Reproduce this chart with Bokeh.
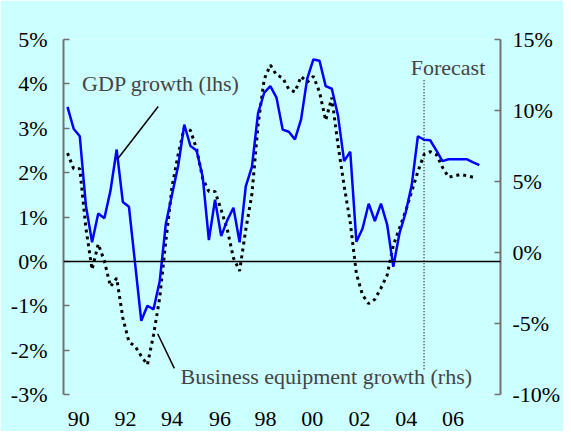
from bokeh.plotting import figure
from bokeh.models import Range1d, LinearAxis, FixedTicker, Span, Label, PrintfTickFormatter
from bokeh.embed import file_html
from bokeh.resources import INLINE

# Quarterly series (index 0 = first quarter shown)
gdp = [3.48, 2.99, 2.82, 1.25, 0.43, 1.08, 0.97, 1.60, 2.52, 1.34, 1.23, -0.05,
       -1.34, -1.00, -1.08, -0.45, 0.85, 1.50, 2.15, 3.08, 2.60, 2.50, 1.90, 0.48,
       1.39, 0.57, 0.93, 1.21, 0.43, 1.69, 2.13, 3.34, 3.80, 3.95, 3.69, 2.97,
       2.92, 2.75, 3.20, 4.12, 4.55, 4.52, 3.95, 3.89, 3.29, 2.26, 2.47, 0.44,
       0.74, 1.30, 0.91, 1.30, 0.83, -0.12, 0.63, 1.09, 1.72, 2.82, 2.74, 2.73,
       2.50, 2.26, 2.30, 2.30, 2.30, 2.30, 2.23, 2.17]
equip = [7.0, 5.9, 5.9, 1.7, -1.2, 0.6, -0.6, -2.4, -1.8, -4.6, -6.3, -6.6,
         -7.3, -7.9, -5.8, -3.2, 0.8, 4.6, 6.9, 8.8, 8.6, 7.3, 5.2, 4.3,
         4.3, 3.0, 1.6, -0.4, -1.3, 1.6, 4.1, 9.0, 12.2, 13.2, 12.5, 12.3,
         11.5, 11.3, 12.4, 12.0, 12.4, 11.3, 9.3, 10.9, 7.6, 4.7, 2.1, -1.5,
         -3.0, -3.6, -3.3, -2.5, -1.6, 0.5, 1.7, 2.9, 4.3, 5.7, 6.9, 7.1,
         6.9, 6.0, 5.3, 5.4, 5.5, 5.4, 5.3]
left_ticks = [-3, -2, -1, 0, 1, 2, 3, 4, 5]
right_ticks = [-10, -5, 0, 5, 10, 15]
year_labels = ["90", "92", "94", "96", "98", "00", "02", "04", "06"]
year_label_pos = [1.83, 9.42, 17.0, 24.8, 32.2, 39.8, 47.5, 55.1, 62.7]
forecast_start = 58

FONT = "Liberation Serif"
BG = "#CCFFFF"
FS = "22px"
AXC = "#707070"

p = figure(width=563, height=431, output_backend="svg", toolbar_location=None,
           x_range=Range1d(-0.65, 70.44), y_range=Range1d(-3, 5),
           min_border_left=63, min_border_right=60, min_border_top=39,
           min_border_bottom=37)
p.extra_y_ranges = {"rhs": Range1d(-10, 15)}
p.grid.visible = False
p.outline_line_color = None
p.background_fill_color = BG
p.border_fill_color = BG

# x axis: labels only
xa = p.xaxis[0]
xa.ticker = FixedTicker(ticks=year_label_pos)
xa.major_label_overrides = {pos: lab for pos, lab in zip(year_label_pos, year_labels)}
xa.axis_line_color = None
xa.major_tick_line_color = None
xa.minor_tick_line_color = None
xa.major_label_standoff = 11
xa.major_label_text_font = FONT
xa.major_label_text_font_size = FS
xa.major_label_text_color = "black"

def style_y(ax, ticks):
    ax.ticker = FixedTicker(ticks=ticks)
    ax.formatter = PrintfTickFormatter(format="%d%%")
    ax.axis_line_color = AXC
    ax.axis_line_width = 2
    ax.major_tick_line_color = AXC
    ax.major_tick_line_width = 1.5
    ax.major_tick_in = 6
    ax.major_tick_out = 0
    ax.minor_tick_line_color = None
    ax.major_label_text_font = FONT
    ax.major_label_text_font_size = FS
    ax.major_label_text_color = "black"

ya = p.yaxis[0]
style_y(ya, left_ticks)
ya.major_label_standoff = 16

ra = LinearAxis(y_range_name="rhs")
style_y(ra, right_ticks)
ra.major_label_standoff = 12
p.add_layout(ra, "right")

p.add_layout(Span(location=0, dimension="width", line_color="black", line_width=1.5))

x_eq = list(range(len(equip)))
x_gdp = list(range(len(gdp)))
p.line(x_eq, equip, y_range_name="rhs", line_color="black", line_width=3,
       line_dash="3 4")
p.line(x_gdp, gdp, line_color="#0000FF", line_width=2.5)

# forecast marker
p.segment(x0=[forecast_start], y0=[4.08], x1=[forecast_start], y1=[-2.45],
          line_color="black", line_width=1.2, line_dash="1 2")
p.add_layout(Label(x=forecast_start + 3.9, y=4.37, text="Forecast", text_align="center",
                   text_baseline="middle", text_font=FONT, text_font_size=FS))

# annotations
p.add_layout(Label(x=15.2, y=4.01, text="GDP growth (lhs)", text_align="center",
                   text_baseline="middle", text_font=FONT, text_font_size=FS))
p.segment(x0=[14.76], y0=[3.49], x1=[8.12], y1=[2.30], line_color="black", line_width=1.5)
p.add_layout(Label(x=42.1, y=-2.59, text="Business equipment growth (rhs)",
                   text_align="center", text_baseline="middle", text_font=FONT,
                   text_font_size=FS))
p.segment(x0=[14.67], y0=[-1.63], x1=[17.38], y1=[-2.41], line_color="black", line_width=1.5)

open("out.html", "w").write(file_html(p, INLINE))
